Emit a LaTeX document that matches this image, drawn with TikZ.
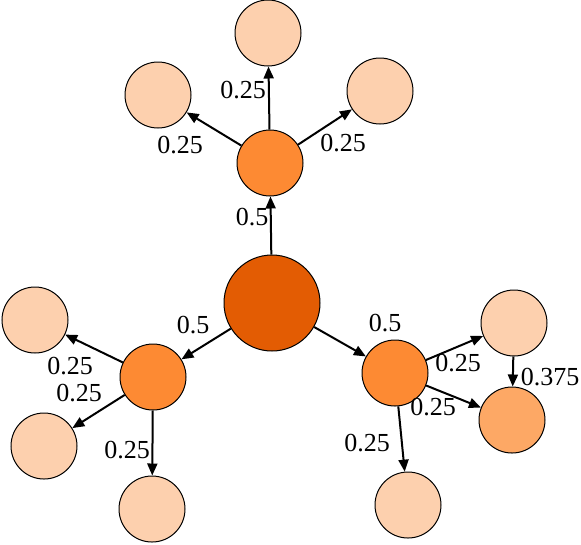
\documentclass[tikz,border=0pt]{standalone}
\usepackage{fontspec}
\setmainfont{Liberation Serif}
\usetikzlibrary{arrows.meta}
\definecolor{leafc}{HTML}{FDD0AE}
\definecolor{midc}{HTML}{FD8A33}
\definecolor{semic}{HTML}{FDA865}
\definecolor{corec}{HTML}{E35C03}
\begin{document}
\begin{tikzpicture}[x=0.75pt,y=-0.75pt,
  vert/.style={circle,draw=black,line width=0.75pt,inner sep=0pt,minimum size=49.5pt},
  leaf/.style={vert,fill=leafc},
  midv/.style={vert,fill=midc},
  semiv/.style={vert,fill=semic},
  corev/.style={vert,fill=corec,minimum size=72pt},
  edge/.style={line width=1.5pt,-{Triangle[length=9pt,width=7.5pt]}},
  lbl/.style={font=\fontsize{19.5}{20}\selectfont,inner sep=0pt}]
\useasboundingbox (0,0) rectangle (581,544);
\node[corev] (c) at (272,303) {};
\node[midv] (mt) at (270,163) {};
\node[midv] (ml) at (153,377) {};
\node[midv] (mr) at (395,373) {};
\node[leaf] (t1) at (268,33) {};
\node[leaf] (t2) at (158,95) {};
\node[leaf] (t3) at (380,91) {};
\node[leaf] (l1) at (35,320) {};
\node[leaf] (l2) at (44,446) {};
\node[leaf] (l3) at (152,509) {};
\node[leaf] (r1) at (514,323) {};
\node[semiv] (r2) at (512,420) {};
\node[leaf] (r3) at (408,505) {};
\draw[edge] (c) -- (mt);
\draw[edge] (c) -- (ml);
\draw[edge] (c) -- (mr);
\draw[edge] (mt) -- (t1);
\draw[edge] (mt) -- (t2);
\draw[edge] (mt) -- (t3);
\draw[edge] (ml) -- (l1);
\draw[edge] (ml) -- (l2);
\draw[edge] (ml) -- (l3);
\draw[edge] (mr) -- (r1);
\draw[edge] (mr) -- (r2);
\draw[edge] (mr) -- (r3);
\draw[edge] (r1) -- (r2);
\node[lbl] (a1) at (252,217) {0.5};
\node[lbl] (a2) at (193,325) {0.5};
\node[lbl] (a3) at (385,323) {0.5};
\node[lbl] (b1) at (243,90) {0.25};
\node[lbl] (b2) at (180,145) {0.25};
\node[lbl] (b3) at (343,143) {0.25};
\node[lbl] (b4) at (70,366) {0.25};
\node[lbl] (b5) at (79,393) {0.25};
\node[lbl] (b6) at (127,450) {0.25};
\node[lbl] (b7) at (458,363) {0.25};
\node[lbl] (b8) at (433,407) {0.25};
\node[lbl] (b9) at (367,443) {0.25};
\node[lbl] (b10) at (550,377) {0.375};
\end{tikzpicture}
\end{document}
